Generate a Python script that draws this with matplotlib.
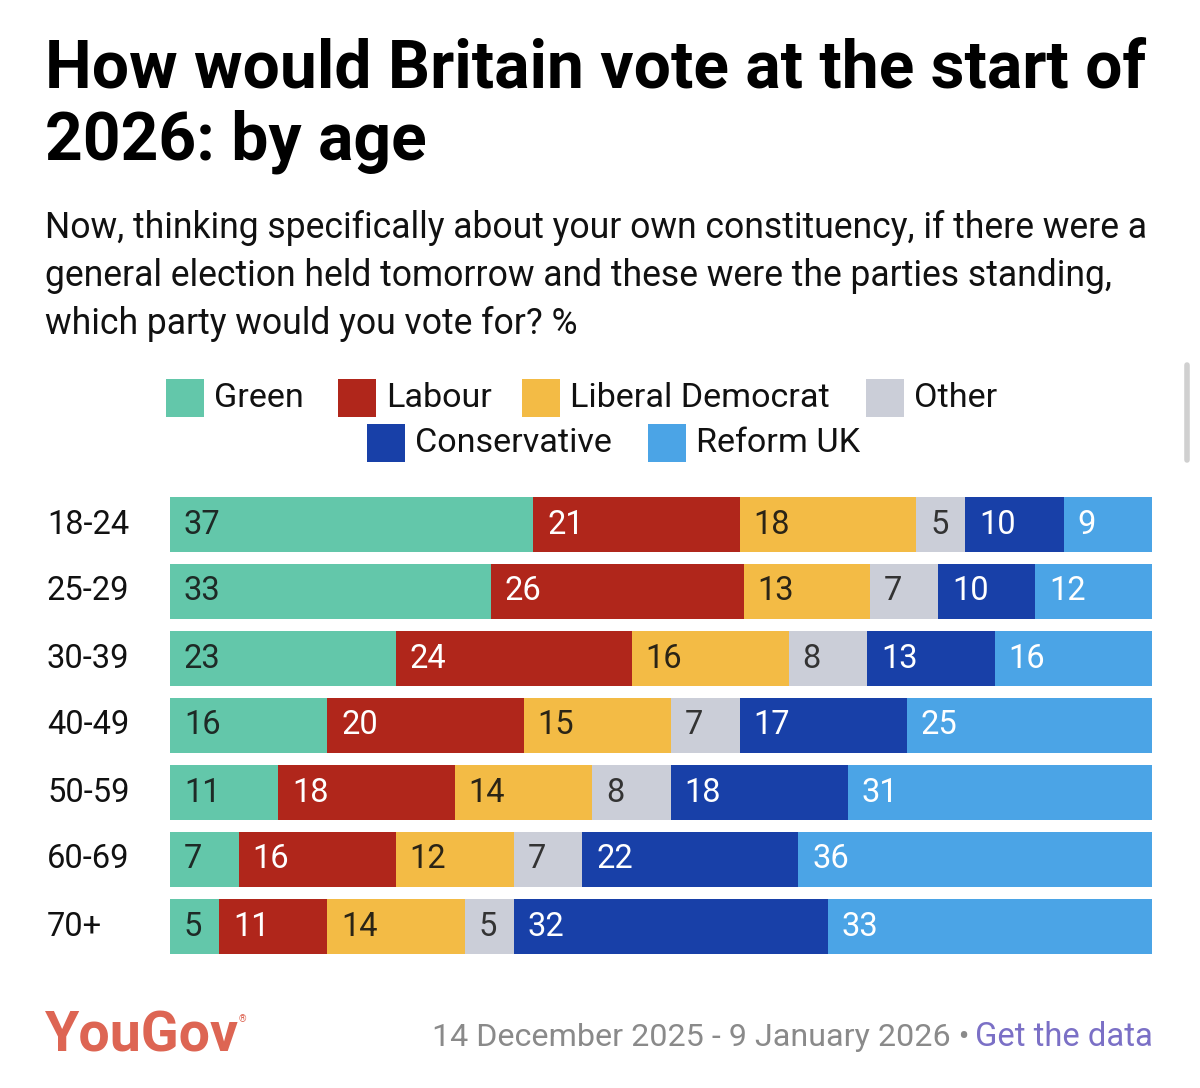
import matplotlib
matplotlib.use("Agg")
import matplotlib.pyplot as plt
from matplotlib.patches import Rectangle
import numpy as np

# data
ages = ["18-24", "25-29", "30-39", "40-49", "50-59", "60-69", "70+"]
parties = ["Green", "Labour", "Liberal Democrat", "Other", "Conservative", "Reform UK"]
green = [37, 33, 23, 16, 11, 7, 5]
labour = [21, 26, 24, 20, 18, 16, 11]
libdem = [18, 13, 16, 15, 14, 12, 14]
other = [5, 7, 8, 7, 8, 7, 5]
conservative = [10, 10, 13, 17, 18, 22, 32]
reform = [9, 12, 16, 25, 31, 36, 33]

colors = ["#63c7aa", "#b0261b", "#f3bb45", "#cbced8", "#1840a8", "#4ba4e6"]
label_colors = ["#1e2a26", "white", "#2a2416", "#333333", "white", "white"]

plt.rcParams['font.family'] = ['Roboto', 'DejaVu Sans']

W, H = 1200, 1088
fig = plt.figure(figsize=(W / 100, H / 100), dpi=100)
fig.patch.set_facecolor("white")


def px(x, y):
    return x / W, 1 - y / H


# title and subtitle
fig.text(*px(45, 87), "How would Britain vote at the start of", fontsize=47.5,
         fontweight="bold", color="black", va="baseline", ha="left")
fig.text(*px(45, 160), "2026: by age", fontsize=47.5,
         fontweight="bold", color="black", va="baseline", ha="left")
sub = ["Now, thinking specifically about your own constituency, if there were a",
       "general election held tomorrow and these were the parties standing,",
       "which party would you vote for? %"]
for i, line in enumerate(sub):
    fig.text(*px(45, 238 + 48 * i), line, fontsize=25.6, color="#111111",
             va="baseline", ha="left")

# legend (manual, two centred rows)
legend_rows = [
    [(0, 166), (1, 338), (2, 522), (3, 866)],
    [(4, 367), (5, 648)],
]
for r, row in enumerate(legend_rows):
    yc = 398 + 45 * r
    for idx, x0 in row:
        x, y = px(x0, yc + 19)
        fig.patches.append(Rectangle((x, y), 38 / W, 38 / H, transform=fig.transFigure,
                                     color=colors[idx], lw=0))
        fig.text(*px(x0 + 48, yc), parties[idx], fontsize=24.6, color="#111111",
                 va="center", ha="left")

# bars
ax = fig.add_axes([170 / W, (H - 960) / H, 982 / W, 469 / H])
data = np.array([green, labour, libdem, other, conservative, reform], dtype=float)
totals = data.sum(axis=0)
shares = data / totals * 100
y = np.arange(len(ages))
left = np.zeros(len(ages))
for k in range(len(parties)):
    ax.barh(y, shares[k], left=left, height=0.82, color=colors[k], lw=0)
    for i in range(len(ages)):
        ax.annotate(str(int(data[k, i])), (left[i], y[i]), xytext=(10, 0),
                    textcoords="offset points", va="center", ha="left",
                    fontsize=23.5, color=label_colors[k])
    left += shares[k]

ax.set_xlim(0, 100)
ax.set_ylim(len(ages) - 0.5, -0.5)
ax.axis("off")
for i, a in enumerate(ages):
    ax.annotate(a, (0, y[i]), xycoords=("axes fraction", "data"),
                xytext=(-123 * 0.72, 0), textcoords="offset points",
                va="center", ha="left", fontsize=23.5, color="#111111")

# footer
fig.text(*px(45, 1051), "YouGov", fontsize=40, fontweight="bold", color="#dd6553",
         va="baseline", ha="left")
fig.text(*px(239, 1022), "®", fontsize=7, color="#dd6553", va="baseline", ha="left")
link = fig.text(*px(1153, 1046), "Get the data", fontsize=23.6, color="#7b70c6",
                va="baseline", ha="right")
fig.canvas.draw()
bb = link.get_window_extent()
fig.text(bb.x0 / W - 6 / W, 1 - 1046 / H, "14 December 2025 - 9 January 2026 \u2022",
         fontsize=23.2, color="#8a8a8a", va="baseline", ha="right")

# scrollbar hint on the right edge
fig.add_artist(plt.Line2D([1187 / W, 1187 / W], [1 - 365 / H, 1 - 460 / H],
                          color="#d0d0d0", lw=4, solid_capstyle="round"))

fig.savefig("out.png", dpi=100)
